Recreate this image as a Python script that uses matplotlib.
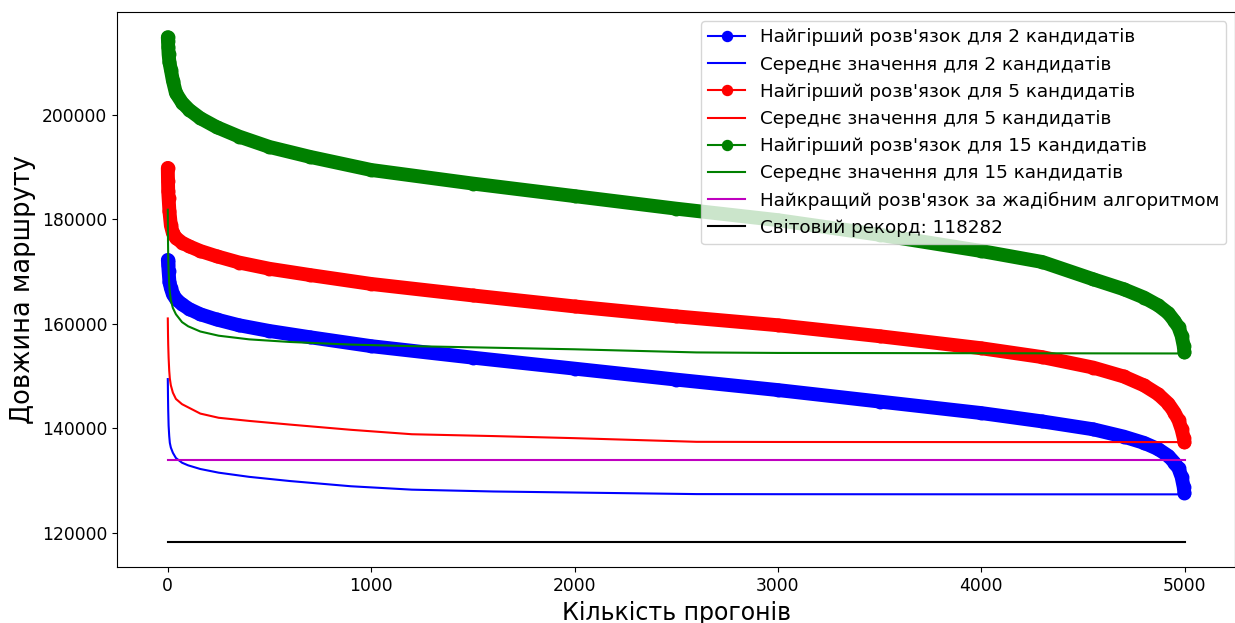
import matplotlib
matplotlib.use("Agg")
import matplotlib.pyplot as plt

# Sorted worst route lengths per number of candidates
worst_runs = [0, 1, 2, 4, 8, 15, 25, 40, 70, 105, 160, 240, 350, 500, 700, 1000,
              1500, 2000, 2500, 3000, 3500, 4000, 4300, 4550, 4700, 4800, 4870,
              4920, 4950, 4970, 4985, 4995, 4999]
worst_2 = [172200, 171800, 171200, 170000, 168000, 166800, 165600, 164700, 163700,
           162800, 161800, 160800, 159700, 158600, 157400, 155700, 153500, 151400,
           149300, 147300, 145100, 142900, 141300, 139800, 138400, 137200, 136000,
           134700, 133400, 132300, 130700, 128800, 127600]
worst_5 = [189800, 187300, 185300, 184000, 181500, 178800, 177300, 176400, 175500,
           174800, 173900, 172900, 171700, 170500, 169300, 167600, 165400, 163300,
           161400, 159700, 157600, 155300, 153600, 151600, 149900, 148200, 146500,
           144700, 143000, 141500, 139800, 138200, 137300]
worst_15 = [214800, 214000, 213000, 211500, 210000, 208600, 206500, 204100, 202300,
            200900, 199300, 197600, 195800, 193800, 191900, 189400, 186800, 184400,
            182000, 179800, 177000, 173900, 171800, 168500, 166600, 165000, 163500,
            162000, 160500, 159300, 157700, 155800, 154500]

# Running mean route lengths
mean_runs = [0, 1, 2, 4, 7, 10, 15, 25, 40, 70, 100, 160, 250, 400, 600, 900, 1200,
             1600, 2000, 2600, 3000, 4000, 5000]
mean_2 = [149400, 146000, 143500, 140500, 138500, 137200, 136300, 135300, 134300,
          133400, 132900, 132200, 131500, 130700, 129900, 128900, 128250, 127900,
          127700, 127400, 127380, 127360, 127350]
mean_5 = [161000, 158000, 156000, 153500, 151000, 149500, 148200, 146800, 145600,
          144600, 144000, 142800, 142000, 141400, 140700, 139700, 138850, 138500,
          138100, 137400, 137370, 137350, 137350]
mean_15 = [181800, 176000, 173000, 170000, 167500, 166000, 164500, 163000, 161800,
           160300, 159500, 158500, 157700, 157000, 156500, 156000, 155700, 155400,
           155100, 154500, 154400, 154350, 154300]

line_runs = [0, 5000]
greedy_best = 133970
world_record = 118282

labels = {
    "w2": "Найгірший розв'язок для 2 кандидатів",
    "m2": "Середнє значення для 2 кандидатів",
    "w5": "Найгірший розв'язок для 5 кандидатів",
    "m5": "Середнє значення для 5 кандидатів",
    "w15": "Найгірший розв'язок для 15 кандидатів",
    "m15": "Середнє значення для 15 кандидатів",
    "greedy": "Найкращий розв'язок за жадібним алгоритмом",
    "record": f"Світовий рекорд: {world_record}",
}

plt.rcParams['font.family'] = ['DejaVu Sans']

fig = plt.figure(figsize=(12.35, 6.23), dpi=100)
ax = fig.add_axes([0.0947, 0.0899, 0.9057, 0.8909])

band_lw = 10  # dense markers merge into a solid band


def worst(xs, ys, color, label):
    ax.plot(xs, ys, color=color, lw=band_lw, solid_capstyle='round',
            solid_joinstyle='round')
    ax.plot(xs, ys, 'o-', color=color, ms=9, mew=1, lw=1.5, label=label)


worst(worst_runs, worst_2, 'blue', labels["w2"])
ax.plot(mean_runs, mean_2, color='blue', lw=1.5, label=labels["m2"])
worst(worst_runs, worst_5, 'red', labels["w5"])
ax.plot(mean_runs, mean_5, color='red', lw=1.5, label=labels["m5"])
worst(worst_runs, worst_15, 'green', labels["w15"])
ax.plot(mean_runs, mean_15, color='green', lw=1.5, label=labels["m15"])
ax.plot(line_runs, [greedy_best] * 2, color='m', lw=1.5, label=labels["greedy"])
ax.plot(line_runs, [world_record] * 2, color='black', lw=1.5, label=labels["record"])

ax.set_xlim(-250, 5250)
ax.set_ylim(113456, 219626)
ax.set_xticks([0, 1000, 2000, 3000, 4000, 5000])
ax.set_yticks([120000, 140000, 160000, 180000, 200000])
ax.tick_params(labelsize=12.3)
ax.set_xlabel("Кількість прогонів", fontsize=17, labelpad=4.5)
ax.set_ylabel("Довжина маршруту", fontsize=18.5)
ax.legend(loc='upper right', fontsize=13.2, markerscale=0.8)

fig.savefig("out.png", dpi=100)
